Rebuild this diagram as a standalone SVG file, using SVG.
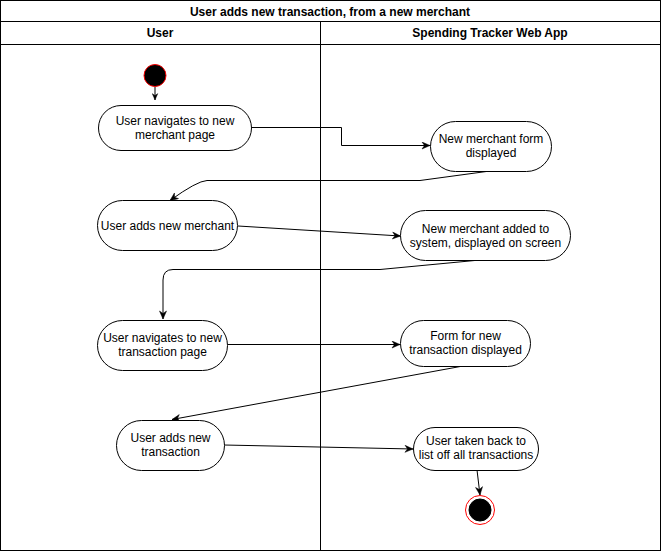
<svg xmlns="http://www.w3.org/2000/svg" width="661" height="551" viewBox="0 0 661 551">
<style>
.frame{fill:#fff;stroke:#000;stroke-width:1}
.node{fill:#fff;stroke:#000;stroke-width:1}
.t{font-family:"Liberation Sans",Arial,sans-serif;font-size:12px;fill:#000;text-anchor:middle}
.b{font-weight:bold}
.edge{fill:none;stroke:#000;stroke-width:1}
</style>
<defs>
<marker id="arr" viewBox="0 0 10 8" markerWidth="10" markerHeight="8" refX="9" refY="4" orient="auto" markerUnits="userSpaceOnUse">
<path d="M1,0.5 L9,4 L1,7.5 L3.5,4 z" fill="#000" stroke="#000" stroke-width="0.5"/>
</marker>
<marker id="arrs" viewBox="0 0 10 8" markerWidth="8" markerHeight="7" refX="9" refY="4" orient="auto" markerUnits="userSpaceOnUse">
<path d="M1,0.5 L9,4 L1,7.5 L3.5,4 z" fill="#000" stroke="#000" stroke-width="0.5"/>
</marker>
</defs>
<g id="pool">
<rect class="frame" x="0.5" y="0.5" width="660" height="550"/>
<line class="edge" x1="0.5" y1="21.5" x2="660.5" y2="21.5"/>
<line class="edge" x1="0.5" y1="44.5" x2="660.5" y2="44.5"/>
<line class="edge" x1="320.5" y1="21.5" x2="320.5" y2="550.5"/>
<text class="t b" x="330" y="16">User adds new transaction, from a new merchant</text>
<text class="t b" x="160" y="37">User</text>
<text class="t b" x="490" y="37">Spending Tracker Web App</text>
</g>
<g id="connectors">
<path class="edge" d="M155,87 V100" marker-end="url(#arrs)"/>
<path class="edge" d="M251,127.5 H341.5 V145.5 H430" marker-end="url(#arr)"/>
<path class="edge" d="M490,171 L420,180.5 H207 Q197,181 170,200.5" marker-end="url(#arr)"/>
<path class="edge" d="M238,226 L400.5,236" marker-end="url(#arr)"/>
<path class="edge" d="M480,260 L380,269.5 H173 Q163,269.5 163,280 V319" marker-end="url(#arr)"/>
<path class="edge" d="M228,344.5 H400" marker-end="url(#arr)"/>
<path class="edge" d="M463,366 L172,419.5" marker-end="url(#arr)"/>
<path class="edge" d="M224,445 L413,449" marker-end="url(#arr)"/>
<path class="edge" d="M477,470 L480,495" marker-end="url(#arr)"/>
</g>
<g id="start">
<circle cx="155" cy="75.5" r="11" fill="#000" stroke="#ff0000" stroke-width="1"/>
</g>
<g id="n1">
<rect class="node" x="98.5" y="105.5" width="153" height="45" rx="22.5"/>
<text class="t" x="175" y="125">User navigates to new</text>
<text class="t" x="175" y="139">merchant page</text>
</g>
<g id="n2">
<rect class="node" x="430.5" y="121.5" width="121" height="50" rx="25"/>
<text class="t" x="491" y="143">New merchant form</text>
<text class="t" x="491" y="157">displayed</text>
</g>
<g id="n3">
<rect class="node" x="97.5" y="200.5" width="140" height="50" rx="25"/>
<text class="t" x="167.5" y="230">User adds new merchant</text>
</g>
<g id="n4">
<rect class="node" x="400.5" y="210.5" width="170" height="50" rx="25"/>
<text class="t" x="485.5" y="233">New merchant added to</text>
<text class="t" x="485.5" y="247">system, displayed on screen</text>
</g>
<g id="n5">
<rect class="node" x="97.5" y="320.5" width="130" height="50" rx="25"/>
<text class="t" x="162.5" y="342">User navigates to new</text>
<text class="t" x="162.5" y="356">transaction page</text>
</g>
<g id="n6">
<rect class="node" x="400.5" y="320.5" width="130" height="46" rx="23"/>
<text class="t" x="465.5" y="340">Form for new</text>
<text class="t" x="465.5" y="354">transaction displayed</text>
</g>
<g id="n7">
<rect class="node" x="116.5" y="420.5" width="108" height="50" rx="25"/>
<text class="t" x="170.5" y="442">User adds new</text>
<text class="t" x="170.5" y="456">transaction</text>
</g>
<g id="n8">
<rect class="node" x="413.5" y="427.5" width="125" height="43" rx="21.5"/>
<text class="t" x="476" y="445">User taken back to</text>
<text class="t" x="476" y="459">list off all transactions</text>
</g>
<g id="end">
<circle cx="480" cy="510" r="14.5" fill="#fff" stroke="#ff0000" stroke-width="1"/>
<circle cx="480" cy="510" r="11" fill="#000" stroke="#000" stroke-width="1"/>
</g>
</svg>
